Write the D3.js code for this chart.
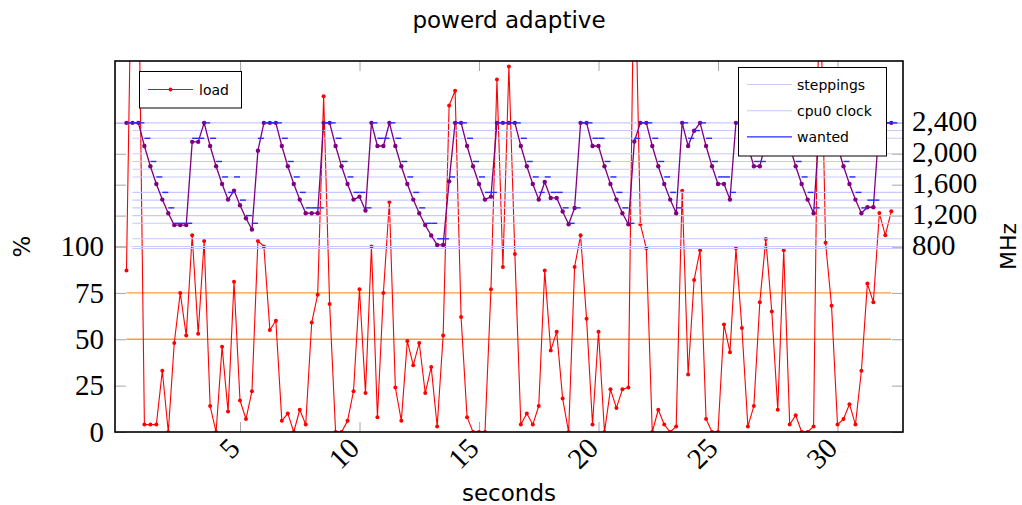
<!DOCTYPE html>
<html>
<head>
<meta charset="utf-8">
<script src="https://cdn.jsdelivr.net/npm/d3@7"></script>
<style>
  body { margin: 0; background: #fff; }
  svg { display: block; }
</style>
</head>
<body>
<svg id="chart" width="1022" height="505"></svg>
<script>
// powerd in adaptive mode, one sample every 250 ms
const sampleStep = 0.25;

// CPU load in percent per sample (values above 200 run off the top of the plot)
const load = [
  87, 290, 260, 4, 4, 4, 33, 0, 48, 75,
  52, 106, 53, 103, 14, 0, 46, 11, 81, 17,
  7, 22, 103, 100, 55, 60, 6, 10, 0, 12,
  4, 59, 74, 181, 69, 0, 0, 6, 22, 77,
  21, 100, 8, 75, 124, 24, 6, 49, 36, 48,
  21, 35, 3, 52, 176, 184, 62, 8, 0, 0,
  0, 77, 190, 89, 197, 96, 4, 10, 4, 14,
  87, 44, 54, 18, 0, 89, 106, 61, 4, 54,
  0, 23, 13, 23, 24, 270, 112, 99, 0, 12,
  4, 0, 3, 130, 31, 82, 98, 7, 0, 0,
  58, 43, 99, 56, 3, 14, 70, 104, 65, 12,
  98, 4, 9, 0, 0, 3, 260, 102, 68, 4,
  7, 15, 4, 33, 80, 70, 118, 106, 119
];

// cpu0 clock in MHz per sample
const cpuClock = [
  2400, 2400, 2400, 2100, 1838, 1608, 1407, 1231, 1077, 1077,
  1077, 2154, 2154, 2400, 2100, 1838, 1608, 1407, 1523, 1333,
  1166, 1020, 2040, 2400, 2400, 2400, 2100, 1838, 1608, 1407,
  1231, 1231, 1231, 2400, 2400, 2100, 1838, 1608, 1407, 1445,
  1265, 2400, 2100, 2100, 2400, 2100, 1838, 1608, 1407, 1231,
  1077, 942, 820, 820, 1643, 2400, 2400, 2100, 1838, 1608,
  1407, 1445, 2400, 2400, 2400, 2400, 2100, 1838, 1608, 1407,
  1634, 1428, 1428, 1252, 1088, 1299, 2400, 2400, 2100, 2100,
  1838, 1608, 1407, 1231, 1088, 2159, 2400, 2400, 2100, 1838,
  1608, 1407, 1231, 2400, 2100, 2297, 2400, 2100, 1838, 1609,
  1609, 1407, 2400, 2400, 2100, 1838, 1838, 2154, 2400, 2400,
  2400, 2100, 1838, 1608, 1407, 1231, 2400, 2400, 2400, 2100,
  1838, 1608, 1407, 1231, 1308, 1308, 2400, 2400, 2400
];

// frequency level requested by powerd per sample, MHz
const wanted = [
  2400, 2400, 2400, 2200, 1900, 1700, 1500, 1300, 1100, 1100,
  1100, 2200, 2200, 2400, 2200, 1900, 1700, 1500, 1700, 1400,
  1200, 1100, 2200, 2400, 2400, 2400, 2200, 1900, 1700, 1500,
  1300, 1300, 1300, 2400, 2400, 2200, 1900, 1700, 1500, 1500,
  1300, 2400, 2200, 2200, 2400, 2200, 1900, 1700, 1500, 1300,
  1100, 1100, 900, 900, 1700, 2400, 2400, 2200, 1900, 1700,
  1500, 1500, 2400, 2400, 2400, 2400, 2200, 1900, 1700, 1500,
  1700, 1500, 1500, 1300, 1100, 1300, 2400, 2400, 2200, 2200,
  1900, 1700, 1500, 1300, 1100, 2200, 2400, 2400, 2200, 1900,
  1700, 1500, 1300, 2400, 2200, 2300, 2400, 2200, 1900, 1700,
  1700, 1500, 2400, 2400, 2200, 1900, 1900, 2200, 2400, 2400,
  2400, 2200, 1900, 1700, 1500, 1300, 2400, 2400, 2400, 2200,
  1900, 1700, 1500, 1300, 1400, 1400, 2400, 2400, 2400
];

// available frequency levels, MHz
const steppings = [2400, 2300, 2200, 2000, 1900, 1800, 1700, 1500, 1400, 1300, 1200, 1100, 900, 800, 775];

// adaptive mode load thresholds, percent
const loadThresholds = [50, 75];

const loadTicks = [0, 25, 50, 75, 100];
const mhzTicks = [800, 1200, 1600, 2000, 2400];
const secondTicks = [5, 10, 15, 20, 25, 30];

const times = load.map((_, i) => (i + 1) * sampleStep);

const plot = { left: 115, right: 903, top: 61, bottom: 432 };
const serif = "'Liberation Serif', 'DejaVu Serif', serif";
const sans = "'DejaVu Sans', sans-serif";

const x = d3.scaleLinear().domain([-0.23, 32.74]).range([plot.left, plot.right]);
const yLoad = d3.scaleLinear().domain([0, 200]).range([plot.bottom, plot.top]);
const yMhz = d3.scaleLinear().domain([-1600, 3200]).range([plot.bottom, plot.top]);

const svg = d3.select("#chart");

svg.append("defs").append("clipPath").attr("id", "plot-clip")
  .append("rect")
  .attr("x", plot.left).attr("y", plot.top)
  .attr("width", plot.right - plot.left).attr("height", plot.bottom - plot.top);

// ---- ticks (all pointing into the plot) ----
const tickColor = "#a6a6a6";
function styleAxis(g) {
  g.select(".domain").remove();
  g.selectAll(".tick line").attr("stroke", tickColor).attr("stroke-width", 1);
}

svg.append("g").attr("transform", `translate(${plot.left},0)`)
  .call(d3.axisLeft(yLoad).tickValues(loadTicks).tickSize(-11).tickPadding(11))
  .call(styleAxis)
  .call(g => g.selectAll("text").attr("font-family", serif).attr("font-size", 29).attr("fill", "#000"));

svg.append("g").attr("transform", `translate(${plot.right},0)`)
  .call(d3.axisRight(yLoad).tickValues(loadTicks).tickSize(-11).tickFormat(""))
  .call(styleAxis);

svg.append("g").attr("transform", `translate(${plot.left},0)`)
  .call(d3.axisLeft(yMhz).tickValues(mhzTicks).tickSize(-11).tickFormat(""))
  .call(styleAxis);

svg.append("g").attr("transform", `translate(${plot.right},0)`)
  .call(d3.axisRight(yMhz).tickValues(mhzTicks).tickSize(-11).tickPadding(9).tickFormat(d3.format(",")))
  .call(styleAxis)
  .call(g => g.selectAll("text").attr("font-family", serif).attr("font-size", 29).attr("fill", "#000")
    .attr("dy", "0.28em"));

svg.append("g").attr("transform", `translate(0,${plot.top})`)
  .call(d3.axisTop(x).tickValues(secondTicks).tickSize(-10).tickFormat(""))
  .call(styleAxis);

svg.append("g").attr("transform", `translate(0,${plot.bottom})`)
  .call(d3.axisBottom(x).tickValues(secondTicks).tickSize(-10))
  .call(styleAxis)
  .call(g => g.selectAll("text")
    .attr("font-family", serif).attr("font-size", 29).attr("fill", "#000")
    .attr("y", 0).attr("dy", null)
    .attr("text-anchor", "end")
    .attr("dominant-baseline", "central")
    .attr("transform", "translate(-6,11) rotate(-45)"));

// ---- load axis content ----
const loadLayer = svg.append("g").attr("clip-path", "url(#plot-clip)");

loadLayer.selectAll("line.threshold").data(loadThresholds).join("line")
  .attr("class", "threshold")
  .attr("x1", x(times[0])).attr("x2", x(times[times.length - 1]))
  .attr("y1", d => yLoad(d)).attr("y2", d => yLoad(d))
  .attr("stroke", "#ff9a3c").attr("stroke-width", 1.3);

loadLayer.append("path")
  .datum(load)
  .attr("fill", "none").attr("stroke", "#ff0000").attr("stroke-width", 1.1)
  .attr("stroke-linejoin", "round")
  .attr("d", d3.line().x((d, i) => x(times[i])).y(d => yLoad(d)));

loadLayer.selectAll("circle.load").data(load).join("circle")
  .attr("class", "load")
  .attr("cx", (d, i) => x(times[i])).attr("cy", d => yLoad(d)).attr("r", 2)
  .attr("fill", "#ff0000");

// load legend
const leg1 = svg.append("g");
leg1.append("rect").attr("x", 139.5).attr("y", 71.5).attr("width", 102).attr("height", 36.5)
  .attr("fill", "#fff").attr("stroke", "#000").attr("stroke-width", 1);
leg1.append("line").attr("x1", 148).attr("x2", 193).attr("y1", 89.5).attr("y2", 89.5)
  .attr("stroke", "#ff0000").attr("stroke-width", 1.1);
leg1.append("circle").attr("cx", 170.5).attr("cy", 89.5).attr("r", 2).attr("fill", "#ff0000");
leg1.append("text").attr("x", 199).attr("y", 89.5).attr("dominant-baseline", "central")
  .attr("font-family", sans).attr("font-size", 14).text("load");

// ---- frequency axis content ----
const mhzLayer = svg.append("g").attr("clip-path", "url(#plot-clip)");

mhzLayer.selectAll("line.step").data(steppings).join("line")
  .attr("class", "step")
  .attr("x1", d => d === steppings[0] ? plot.left : x(times[1]))
  .attr("x2", plot.right)
  .attr("y1", d => yMhz(d)).attr("y2", d => yMhz(d))
  .attr("stroke", "#c9c9ff").attr("stroke-width", 1.1);

mhzLayer.append("path")
  .datum(cpuClock)
  .attr("fill", "none").attr("stroke", "#800080").attr("stroke-width", 1.3)
  .attr("stroke-linejoin", "round")
  .attr("d", d3.line().x((d, i) => x(times[i])).y(d => yMhz(d)));

mhzLayer.selectAll("circle.clock").data(cpuClock).join("circle")
  .attr("class", "clock")
  .attr("cx", (d, i) => x(times[i])).attr("cy", d => yMhz(d)).attr("r", 2.2)
  .attr("fill", "#800080");

mhzLayer.selectAll("line.wanted").data(wanted).join("line")
  .attr("class", "wanted")
  .attr("x1", (d, i) => x(times[i]))
  .attr("x2", (d, i) => x(times[i] + sampleStep))
  .attr("y1", d => yMhz(d)).attr("y2", d => yMhz(d))
  .attr("stroke", "#2a2aff").attr("stroke-width", 1.4);

// frequency legend
const leg2 = svg.append("g");
leg2.append("rect").attr("x", 738.5).attr("y", 67.5).attr("width", 148).attr("height", 88.5)
  .attr("fill", "#fff").attr("stroke", "#000").attr("stroke-width", 1);
const leg2Items = [
  { label: "steppings", color: "#c9c9ff", width: 1.1 },
  { label: "cpu0 clock", color: "#c9c9ff", width: 1.1 },
  { label: "wanted", color: "#2a2aff", width: 1.4 }
];
leg2Items.forEach((item, i) => {
  const cy = 84.5 + i * 26.2;
  leg2.append("line").attr("x1", 747).attr("x2", 792).attr("y1", cy).attr("y2", cy)
    .attr("stroke", item.color).attr("stroke-width", item.width);
  leg2.append("text").attr("x", 797).attr("y", cy).attr("dominant-baseline", "central")
    .attr("font-family", sans).attr("font-size", 14).text(item.label);
});

// ---- frame ----
svg.append("rect")
  .attr("x", plot.left).attr("y", plot.top)
  .attr("width", plot.right - plot.left).attr("height", plot.bottom - plot.top)
  .attr("fill", "none").attr("stroke", "#000").attr("stroke-width", 1.6);

// ---- titles ----
svg.append("text").attr("x", (plot.left + plot.right) / 2).attr("y", 20)
  .attr("text-anchor", "middle").attr("dominant-baseline", "central")
  .attr("font-family", sans).attr("font-size", 23).text("powerd adaptive");

svg.append("text").attr("x", (plot.left + plot.right) / 2).attr("y", 493)
  .attr("text-anchor", "middle").attr("dominant-baseline", "central")
  .attr("font-family", sans).attr("font-size", 23).text("seconds");

svg.append("text").attr("transform", `translate(22,${yLoad(100)}) rotate(-90)`)
  .attr("text-anchor", "middle").attr("dominant-baseline", "central")
  .attr("font-family", sans).attr("font-size", 23).text("%");

svg.append("text").attr("transform", `translate(1008,${yLoad(100)}) rotate(-90)`)
  .attr("text-anchor", "middle").attr("dominant-baseline", "central")
  .attr("font-family", sans).attr("font-size", 22).text("MHz");
</script>
</body>
</html>
